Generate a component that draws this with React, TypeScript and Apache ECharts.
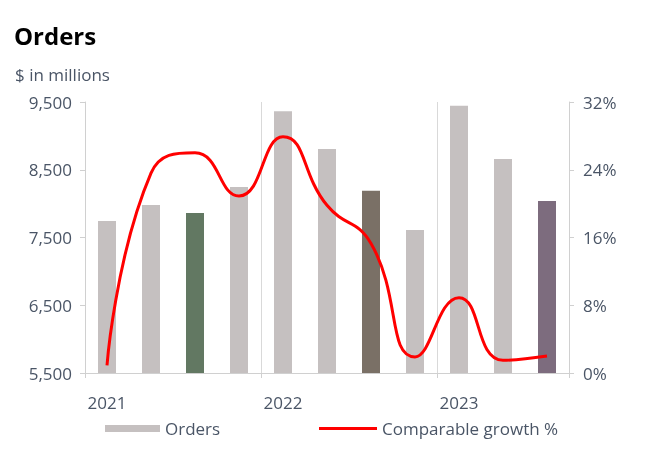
import React, { useEffect, useRef } from "react";
import * as echarts from "echarts";

const categories = ["2021", "", "", "", "2022", "", "", "", "2023", "", ""];
const orders = [7745, 7980, 7860, 8245, 9365, 8805, 8190, 7610, 9445, 8660, 8040];
const growth = [0.9, 23.6, 26.0, 20.9, 27.9, 19.8, 15.3, 1.9, 8.9, 1.5, 2.0];
const leftTicks = [5500, 6500, 7500, 8500, 9500];
const rightTicks = [0, 8, 16, 24, 32];

const LIGHT = "#c5c0c0";
const barColors = [LIGHT, LIGHT, "#627862", LIGHT, LIGHT, LIGHT, "#7a7066", LIGHT, LIGHT, LIGHT, "#7d6c7e"];

const FONT = "Open Sans";
const AXIS_TEXT = "#4a5566";

export default function App() {
  const ref = useRef<HTMLDivElement>(null);
  useEffect(() => {
    const chart = echarts.init(ref.current!, null, { renderer: "svg" });
    chart.setOption({
      animation: false,
      textStyle: { fontFamily: FONT },
      graphic: [
        { type: "text", left: 14, top: 23, style: { text: "Orders", font: `bold 24px ${FONT}`, fill: "#000" } },
        { type: "text", left: 15, top: 66, style: { text: "$ in millions", font: `17px ${FONT}`, fill: AXIS_TEXT } },
      ],
      legend: [
        {
          top: 415,
          left: 100,
          itemWidth: 55,
          itemHeight: 7,
          icon: "rect",
          textStyle: { fontSize: 17, color: AXIS_TEXT, fontFamily: FONT },
          data: [{ name: "Orders", itemStyle: { color: LIGHT } }],
        },
        {
          top: 415,
          left: 314,
          itemWidth: 58,
          itemHeight: 3,
          icon: "rect",
          textStyle: { fontSize: 17, color: AXIS_TEXT, fontFamily: FONT },
          data: [{ name: "Comparable growth %", itemStyle: { color: "#ff0000" } }],
        },
      ],
      grid: { left: 85, right: 85, top: 102, bottom: 92 },
      xAxis: {
        type: "category",
        data: categories,
        axisLine: { lineStyle: { color: "#d0d0d0", width: 1 } },
        axisTick: { show: true, interval: (i: number) => i % 4 === 0, length: 5, lineStyle: { color: "#d0d0d0" } },
        splitLine: { show: true, interval: (i: number) => i % 4 === 0, lineStyle: { color: "#d9d9d9" } },
        axisLabel: { interval: 0, color: AXIS_TEXT, fontSize: 17, margin: 21 },
      },
      yAxis: [
        {
          type: "value",
          min: leftTicks[0],
          max: leftTicks[leftTicks.length - 1],
          interval: leftTicks[1] - leftTicks[0],
          axisLine: { show: true, lineStyle: { color: "#d0d0d0" } },
          axisTick: { show: true, length: 5, lineStyle: { color: "#d0d0d0" } },
          splitLine: { show: false },
          axisLabel: {
            color: AXIS_TEXT,
            fontSize: 17,
            margin: 13,
            formatter: (v: number) => v.toLocaleString("en-US"),
          },
        },
        {
          type: "value",
          min: rightTicks[0],
          max: rightTicks[rightTicks.length - 1],
          interval: rightTicks[1] - rightTicks[0],
          axisLine: { show: true, lineStyle: { color: "#d0d0d0" } },
          axisTick: { show: true, length: 5, lineStyle: { color: "#d0d0d0" } },
          splitLine: { show: false },
          axisLabel: { color: AXIS_TEXT, fontSize: 17, margin: 14, formatter: "{value}%" },
        },
      ],
      series: [
        {
          name: "Orders",
          type: "bar",
          barWidth: 18,
          data: orders.map((v, i) => ({ value: v, itemStyle: { color: barColors[i] } })),
          itemStyle: { color: LIGHT },
        },
        {
          name: "Comparable growth %",
          type: "line",
          yAxisIndex: 1,
          smooth: 0.5,
          symbol: "none",
          data: growth,
          lineStyle: { color: "#ff0000", width: 3 },
          itemStyle: { color: "#ff0000" },
        },
      ],
    });
    return () => chart.dispose();
  }, []);
  return (
    <div
      ref={ref}
      style={{ position: "fixed", left: 0, top: 0, width: 654, height: 465 }}
    />
  );
}
